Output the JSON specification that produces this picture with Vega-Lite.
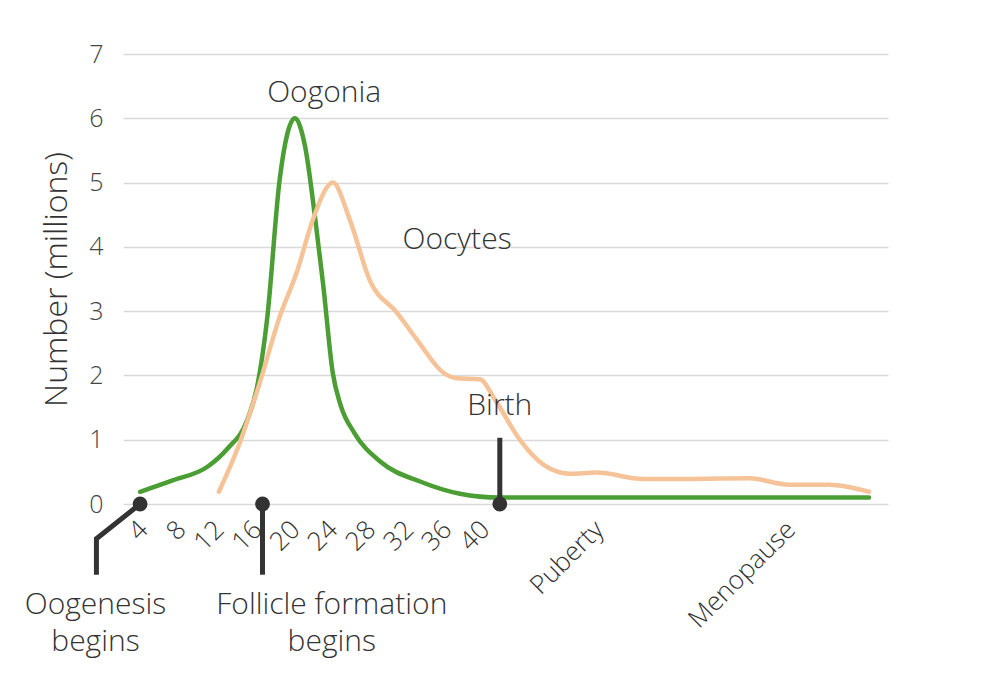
{
  "$schema": "https://vega.github.io/schema/vega-lite/v6.json",
  "width": 765,
  "height": 450,
  "autosize": {"type": "none"},
  "padding": {"left": 123, "top": 54, "right": 99, "bottom": 176},
  "background": "white",
  "config": {
    "view": {"stroke": null},
    "font": "Open Sans",
    "axis": {"labelFont": "Open Sans", "titleFont": "Open Sans"}
  },
  "datasets": {
    "curves": [
      {"series": "Oogonia", "week": 4.2, "count": 0.19},
      {"series": "Oogonia", "week": 7.7, "count": 0.37},
      {"series": "Oogonia", "week": 11.3, "count": 0.58},
      {"series": "Oogonia", "week": 13.4, "count": 0.86},
      {"series": "Oogonia", "week": 15.5, "count": 1.31},
      {"series": "Oogonia", "week": 16.5, "count": 1.8},
      {"series": "Oogonia", "week": 17.6, "count": 2.9},
      {"series": "Oogonia", "week": 18.9, "count": 5.04},
      {"series": "Oogonia", "week": 19.7, "count": 5.75},
      {"series": "Oogonia", "week": 20.5, "count": 6.0},
      {"series": "Oogonia", "week": 21.6, "count": 5.55},
      {"series": "Oogonia", "week": 22.6, "count": 4.5},
      {"series": "Oogonia", "week": 23.5, "count": 3.4},
      {"series": "Oogonia", "week": 24.5, "count": 2.04},
      {"series": "Oogonia", "week": 25.3, "count": 1.55},
      {"series": "Oogonia", "week": 26.8, "count": 1.1},
      {"series": "Oogonia", "week": 29.5, "count": 0.66},
      {"series": "Oogonia", "week": 33.7, "count": 0.35},
      {"series": "Oogonia", "week": 37.9, "count": 0.16},
      {"series": "Oogonia", "week": 42.1, "count": 0.1},
      {"series": "Oogonia", "week": 60, "count": 0.1},
      {"series": "Oogonia", "week": 81, "count": 0.1},
      {"series": "Oocytes", "week": 12.5, "count": 0.19},
      {"series": "Oocytes", "week": 14.7, "count": 0.95},
      {"series": "Oocytes", "week": 16.8, "count": 1.88},
      {"series": "Oocytes", "week": 18.9, "count": 2.91},
      {"series": "Oocytes", "week": 20.7, "count": 3.6},
      {"series": "Oocytes", "week": 22.4, "count": 4.42},
      {"series": "Oocytes", "week": 23.9, "count": 4.93},
      {"series": "Oocytes", "week": 24.5, "count": 5.0},
      {"series": "Oocytes", "week": 26.3, "count": 4.42},
      {"series": "Oocytes", "week": 28.4, "count": 3.48},
      {"series": "Oocytes", "week": 31.3, "count": 2.97},
      {"series": "Oocytes", "week": 33.4, "count": 2.55},
      {"series": "Oocytes", "week": 36.1, "count": 2.05},
      {"series": "Oocytes", "week": 37.4, "count": 1.96},
      {"series": "Oocytes", "week": 40, "count": 1.94},
      {"series": "Oocytes", "week": 41.6, "count": 1.62},
      {"series": "Oocytes", "week": 44.2, "count": 1.0},
      {"series": "Oocytes", "week": 46.8, "count": 0.6},
      {"series": "Oocytes", "week": 49.5, "count": 0.47},
      {"series": "Oocytes", "week": 52.3, "count": 0.49},
      {"series": "Oocytes", "week": 57.2, "count": 0.39},
      {"series": "Oocytes", "week": 62.0, "count": 0.39},
      {"series": "Oocytes", "week": 68.4, "count": 0.4},
      {"series": "Oocytes", "week": 72.6, "count": 0.3},
      {"series": "Oocytes", "week": 76.8, "count": 0.3},
      {"series": "Oocytes", "week": 81, "count": 0.19}
    ],
    "markers": [
      {"event": "Oogenesis", "step": 1, "week": 4.2, "count": 0},
      {"event": "Oogenesis", "step": 2, "week": -0.4, "count": -0.54},
      {"event": "Oogenesis", "step": 3, "week": -0.4, "count": -1.1},
      {"event": "Follicle", "step": 1, "week": 17.1, "count": 0},
      {"event": "Follicle", "step": 2, "week": 17.1, "count": -1.1},
      {"event": "Birth", "step": 1, "week": 42.1, "count": 0},
      {"event": "Birth", "step": 2, "week": 42.1, "count": 1.03}
    ],
    "dots": [
      {"week": 4.2, "count": 0},
      {"week": 17.1, "count": 0},
      {"week": 42.1, "count": 0}
    ],
    "labels": [
      {"text": "Oogonia", "week": 23.6, "count": 6.39},
      {"text": "Oocytes", "week": 37.6, "count": 4.1},
      {"text": "Birth", "week": 42.1, "count": 1.52},
      {"text": "Oogenesis\nbegins", "week": -0.5, "count": -1.57},
      {"text": "Follicle formation\nbegins", "week": 24.4, "count": -1.57}
    ]
  },
  "encoding": {
    "x": {
      "field": "week",
      "type": "quantitative",
      "scale": {"domain": [2.4, 83], "nice": false, "zero": false},
      "axis": {
        "title": null,
        "values": [4, 8, 12, 16, 20, 24, 28, 32, 36, 40, 52, 72.2],
        "labelExpr": "datum.value == 52 ? 'Puberty' : datum.value == 72.2 ? 'Menopause' : datum.label",
        "labelAngle": -45,
        "labelAlign": "right",
        "labelBaseline": "top",
        "labelPadding": 12,
        "labelOffset": -4,
        "labelFontSize": 26,
        "labelFontWeight": 300,
        "labelColor": "#333333",
        "ticks": false,
        "domain": false,
        "grid": false,
        "labelOverlap": false,
        "labelFlush": false
      }
    },
    "y": {
      "field": "count",
      "type": "quantitative",
      "scale": {"domain": [0, 7], "nice": false},
      "axis": {
        "title": "Number (millions)",
        "titleFontSize": 32,
        "titleFontWeight": 300,
        "titleColor": "#333333",
        "titlePadding": 15,
        "values": [0, 1, 2, 3, 4, 5, 6, 7],
        "labelFontSize": 25,
        "labelFontWeight": 300,
        "labelColor": "#444444",
        "labelPadding": 20,
        "ticks": false,
        "domain": false,
        "grid": true,
        "gridColor": "#d9d9d9",
        "gridWidth": 1.5
      }
    }
  },
  "layer": [
    {
      "data": {"name": "curves"},
      "mark": {"type": "line", "interpolate": "monotone", "strokeWidth": 4.5, "strokeCap": "round"},
      "encoding": {
        "detail": {"field": "series"},
        "color": {
          "field": "series",
          "type": "nominal",
          "scale": {"domain": ["Oogonia", "Oocytes"], "range": ["#4a9e34", "#f6c398"]},
          "legend": null
        }
      }
    },
    {
      "data": {"name": "markers"},
      "mark": {"type": "line", "color": "#333333", "strokeWidth": 5},
      "encoding": {
        "detail": {"field": "event"},
        "order": {"field": "step", "type": "quantitative"}
      }
    },
    {
      "data": {"name": "dots"},
      "mark": {"type": "circle", "color": "#333333", "opacity": 1, "size": 220},
      "encoding": {}
    },
    {
      "data": {"name": "labels"},
      "mark": {"type": "text", "fontSize": 30, "fontWeight": 300, "color": "#333333", "lineBreak": "\n", "lineHeight": 37, "align": "center", "baseline": "middle"},
      "encoding": {"text": {"field": "text"}}
    }
  ]
}
